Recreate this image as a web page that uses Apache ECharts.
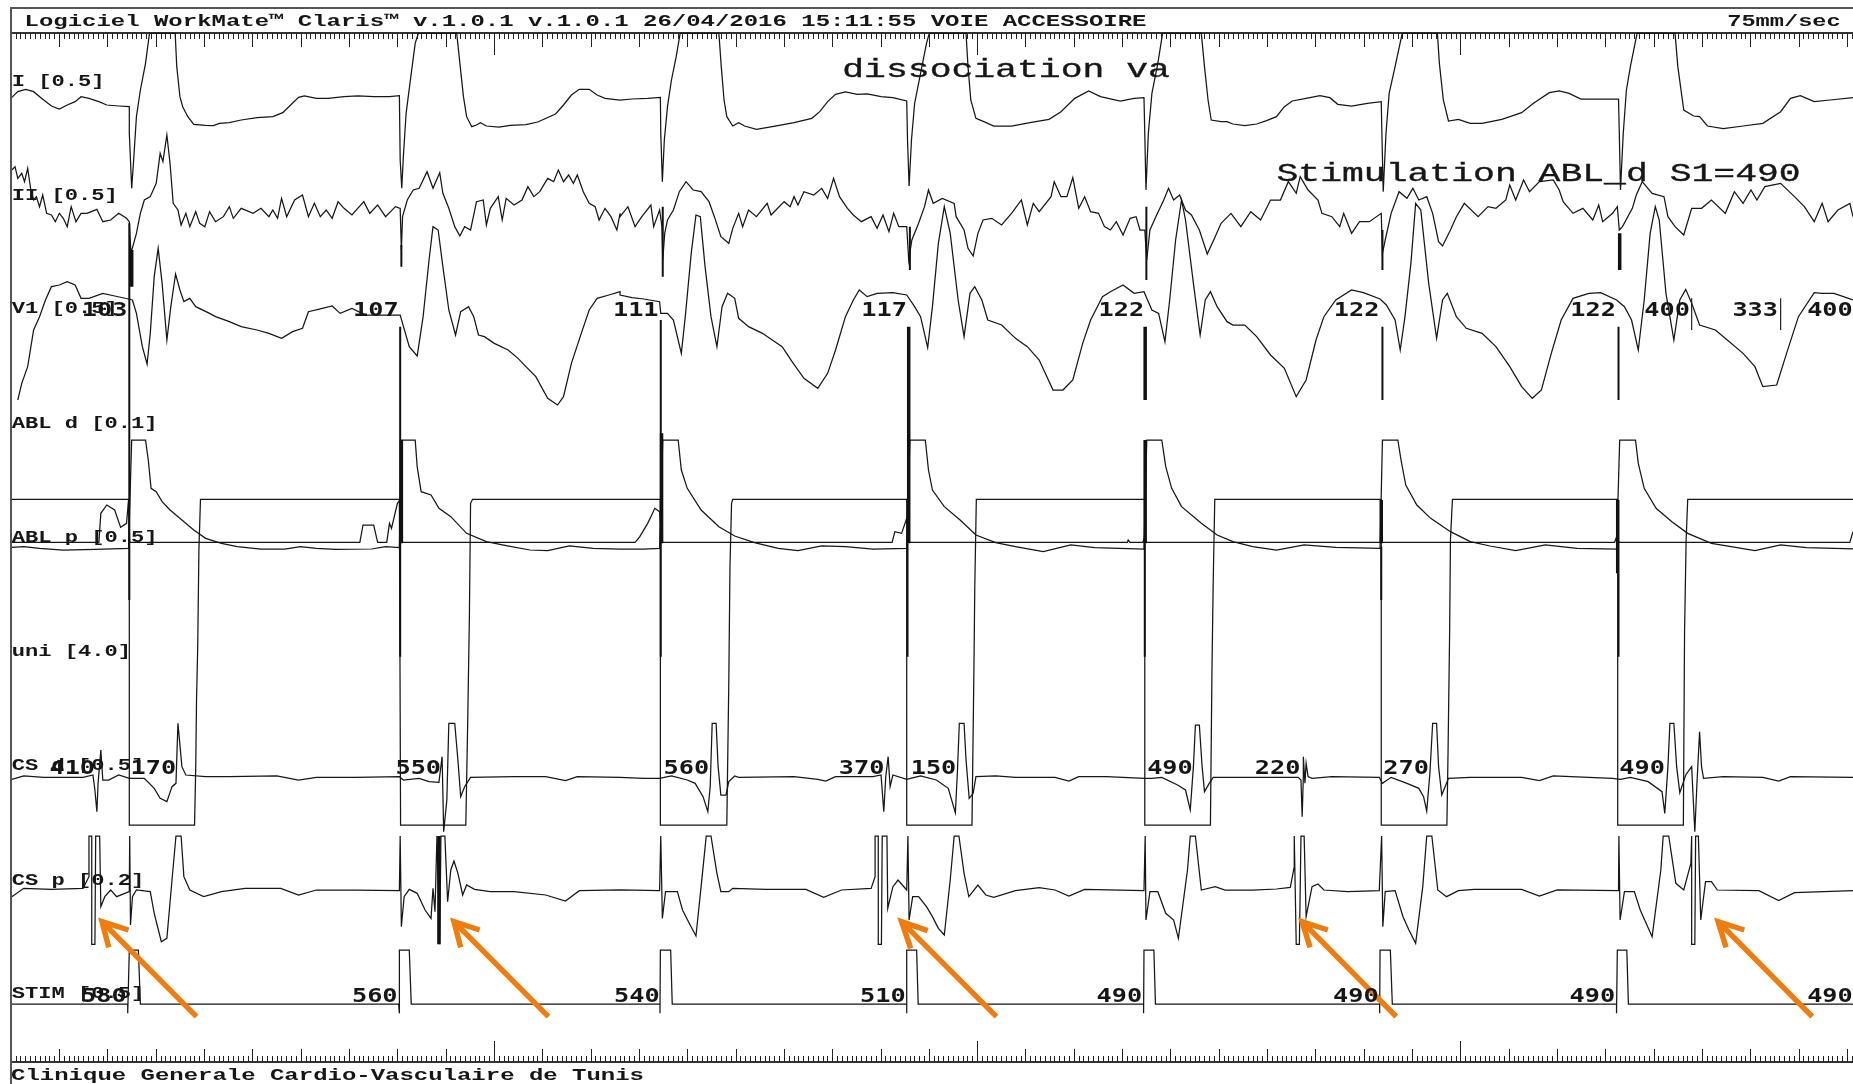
<!DOCTYPE html>
<html><head><meta charset="utf-8">
<style>html,body{margin:0;padding:0;background:#fff}#c{width:1853px;height:1084px}</style>
<script src="https://cdn.jsdelivr.net/npm/echarts@6/dist/echarts.min.js"></script>
</head><body><div id="c"></div>
<script>
// Readings: time / amplitude pairs per recording section (three overlapping sections of the strip).
const sectionStart=[0,1568,3118];
const shiftTop=0, shiftMid=1200, shiftLow=2100;

const leadI=[[30,292,45,275,65,268,85,275,105,295,130,318,150,327,170,315,190,305,205,290,225,295,250,305,270,315,300,318,327,320,327,400,333,565,338,480,345,350,355,270,368,190,378,100,443,100,447,200,455,290,462,320,475,350,490,373,520,376,540,377,555,370,580,368,610,360,650,353,690,350,715,338,735,315,755,292,770,288,800,295,830,295,870,290,905,288,945,290,985,290,1010,287,1012,287,1012,480,1016,565,1020,470,1027,340,1040,220,1050,130,1058,100,1155,100,1163,190,1172,290,1180,350,1193,380,1205,375,1215,368,1230,378,1262,381,1290,376,1330,374,1360,366,1405,342,1425,315,1445,285,1465,268,1490,268,1510,285,1530,295,1568,300],
[0,302,30,297,70,295,102,292,103,400,107,545,112,420,120,320,130,240,142,170,152,100,250,100,256,200,263,300,270,350,285,378,300,368,315,378,345,388,385,380,440,368,485,355,505,335,525,305,545,283,570,276,600,283,625,282,660,290,690,293,725,303,727,420,731,558,737,420,745,310,760,220,775,130,782,100,875,100,880,200,887,300,900,355,920,365,945,378,990,378,1040,367,1085,358,1115,335,1150,295,1185,273,1215,290,1265,303,1300,295,1325,293,1327,400,1330,570,1336,400,1345,280,1360,190,1372,100,1470,100,1478,200,1487,300,1495,360,1520,365,1535,365,1550,372],
[0,372,30,377,60,372,85,362,110,350,130,320,150,303,185,295,220,287,245,293,265,313,300,318,340,310,375,305,377,420,380,575,387,400,395,280,410,200,428,100,517,100,522,190,532,300,545,363,570,358,600,370,630,370,680,358,730,338,760,310,800,278,825,273,850,280,880,297,975,297,977,400,980,570,987,400,995,270,1005,200,1022,100,1118,100,1125,200,1140,330,1165,348,1180,350,1200,378,1240,386,1290,378,1340,370,1385,335,1410,295,1435,287,1470,305,1510,300,1568,293]];

const leadII=[[30,510,38,500,45,535,55,520,62,545,70,505,78,570,85,600,92,590,100,620,108,585,118,640,130,645,140,665,150,640,160,655,170,680,180,620,192,665,205,640,220,640,245,628,260,665,280,660,300,640,320,655,327,665,331,760,345,700,355,640,365,600,380,590,395,550,405,460,412,485,422,405,430,490,438,610,450,630,458,675,470,640,480,680,495,635,505,670,518,680,530,635,545,665,565,650,580,620,590,655,610,625,640,640,660,625,680,650,690,630,702,655,712,595,725,650,745,600,765,585,780,650,795,610,810,650,825,630,840,655,855,605,870,625,890,645,920,605,935,640,955,615,975,650,1000,620,1012,625,1015,750,1018,650,1030,600,1045,570,1060,565,1080,515,1095,565,1112,518,1120,580,1135,625,1150,680,1163,708,1175,680,1190,690,1205,605,1222,600,1230,675,1240,625,1260,590,1270,660,1280,595,1300,615,1320,600,1335,560,1350,590,1365,575,1385,535,1400,545,1412,510,1425,545,1438,525,1450,550,1460,525,1475,575,1490,610,1505,620,1515,660,1530,625,1545,650,1560,690,1568,640],
[0,650,20,620,38,680,55,650,78,615,85,680,100,630,106,680,108,780,113,700,120,660,135,630,150,575,167,545,185,570,205,575,225,605,240,655,255,710,275,730,285,685,300,640,310,680,325,630,345,650,372,610,382,645,415,605,430,620,440,590,450,615,465,575,490,585,510,565,525,595,540,535,555,590,575,625,590,645,610,665,635,650,650,685,665,645,680,695,692,640,705,680,725,680,730,780,738,720,755,670,770,620,780,570,792,610,815,595,845,610,850,650,870,690,880,745,893,768,905,700,918,660,940,655,965,675,990,640,1015,600,1030,675,1045,610,1060,635,1090,590,1098,545,1115,590,1130,590,1145,533,1160,625,1175,590,1190,635,1210,640,1225,680,1240,690,1255,665,1272,705,1290,655,1305,650,1315,690,1327,690,1332,780,1340,690,1355,650,1375,600,1387,565,1400,600,1415,585,1430,630,1445,645,1465,690,1485,762,1505,710,1520,670,1545,640],
[0,645,20,680,45,635,70,660,95,600,120,600,140,545,160,580,170,530,190,570,215,600,225,640,250,650,270,680,280,640,300,700,320,665,345,665,375,640,378,760,385,720,400,640,420,575,440,595,455,565,470,600,490,590,505,640,520,725,530,738,550,690,565,650,585,610,620,650,645,620,665,625,690,600,700,555,715,600,735,540,750,575,775,545,810,540,825,570,835,605,860,640,885,625,910,660,925,615,935,665,960,640,972,620,977,690,985,680,1010,625,1020,585,1035,545,1060,580,1090,590,1100,650,1118,680,1140,705,1160,625,1185,625,1210,600,1245,640,1268,575,1290,610,1310,570,1325,600,1345,560,1385,550,1420,590,1445,620,1470,665,1490,610,1505,665,1530,630,1560,610,1568,650]];

const leadV1=[[45,1200,55,1150,70,1100,85,990,100,950,115,900,130,860,150,855,170,845,190,855,205,895,225,895,260,880,290,888,325,897,335,900,345,940,360,1040,372,1092,380,1000,390,830,400,745,410,850,422,1020,432,920,444,822,455,870,465,905,480,895,495,920,530,940,545,950,580,965,610,980,650,990,680,1000,712,1015,740,995,765,985,780,935,815,925,840,918,860,940,890,925,925,945,960,945,1000,945,1012,945,1018,970,1035,1040,1055,1068,1070,950,1085,780,1095,680,1108,690,1120,800,1135,930,1152,1005,1165,935,1185,920,1198,950,1210,1005,1225,1010,1250,1030,1285,1050,1310,1075,1330,1100,1355,1130,1385,1195,1410,1215,1425,1190,1445,1090,1470,1000,1490,930,1510,895,1540,885,1568,875],
[0,885,30,893,60,897,100,905,103,940,120,940,135,960,155,1060,165,950,180,760,192,645,203,650,215,800,230,950,245,1040,258,920,272,880,290,895,300,955,325,980,360,1000,385,1020,410,1040,435,1085,465,1135,500,1165,525,1120,545,1050,570,950,590,900,605,870,625,890,650,880,690,878,725,885,745,920,760,950,778,1043,790,920,805,730,820,620,835,700,855,900,870,1010,885,880,897,860,915,900,930,960,965,975,1000,1015,1030,1040,1060,1080,1095,1170,1120,1170,1145,1140,1170,1030,1190,960,1220,890,1240,875,1272,855,1300,880,1325,875,1330,880,1345,930,1362,940,1378,1025,1390,900,1405,720,1420,600,1430,660,1450,850,1467,1005,1480,900,1493,875,1510,920,1535,965],
[0,975,30,975,60,1010,95,1065,130,1105,160,1190,185,1140,210,1020,230,950,260,900,300,870,330,878,372,897,388,915,410,960,423,1050,435,950,450,790,462,610,475,630,495,850,515,1015,530,900,542,880,565,950,590,985,630,1000,665,1040,700,1100,730,1160,757,1195,780,1170,805,1060,830,960,860,895,900,880,930,878,970,900,990,920,1008,960,1025,1050,1040,900,1055,700,1068,620,1078,660,1095,880,1115,1020,1130,900,1145,868,1160,910,1180,975,1220,990,1250,1020,1290,1060,1320,1100,1340,1160,1375,1155,1400,1060,1430,950,1470,878,1490,880,1520,880,1568,900]];

const leadAblD=[[30,442,60,440,100,445,160,450,240,448,325,445,333,120,368,120,375,180,382,265,395,275,410,305,430,330,460,360,490,390,520,415,560,430,600,440,660,447,720,447,760,440,800,445,850,448,940,447,975,440,1010,443,1015,120,1050,120,1055,200,1065,275,1090,285,1110,325,1140,350,1180,400,1230,425,1280,437,1340,450,1385,452,1440,438,1500,445,1568,447],
[0,447,60,447,100,445,108,120,147,120,155,210,170,265,205,330,250,380,290,408,340,428,400,445,450,452,510,438,570,440,640,447,725,445,733,120,772,120,780,210,790,270,820,320,860,360,900,405,950,428,1000,440,1070,455,1140,435,1200,443,1325,447,1332,120,1370,120,1380,200,1395,265,1420,320,1470,370,1510,405,1550,425],
[0,428,50,440,110,450,180,435,260,442,372,445,378,120,417,120,425,180,437,255,465,315,500,355,550,395,600,425,650,438,715,452,790,435,870,445,970,447,978,120,1018,120,1025,190,1040,265,1070,325,1110,365,1150,400,1210,430,1260,440,1320,452,1385,435,1450,443,1568,447]];

const leadAblP=[[30,427,250,427,255,340,270,315,290,330,305,382,320,370,325,300,328,427,910,427,918,375,945,375,955,427,978,427,985,370,990,385,1005,310,1012,300,1015,427,1568,427],
[0,427,38,427,50,410,70,370,88,325,100,335,106,427,688,427,695,395,712,400,725,355,730,427,1283,427,1285,420,1290,427,1322,427,1327,410,1330,427,1568,427],
[0,427,965,427,972,405,976,427,1560,427,1568,395]];

const leadUni=[[30,298,327,298,327,1275,492,1275,495,1100,497,900,500,740,503,450,507,298,1010,298,1013,1275,1178,1275,1183,950,1187,650,1190,310,1195,298,1568,298],
[0,298,102,298,102,1275,270,1275,275,850,278,500,282,310,285,298,725,298,725,1275,890,1275,895,800,897,570,901,298,1327,298,1327,1275,1493,1275,1497,800,1500,550,1504,298,1568,298],
[0,298,375,298,375,1275,541,1275,544,1050,548,690,550,420,555,298,973,298,973,1275,1139,1275,1142,700,1146,420,1150,298,1568,298]];

const leadCsD=[[30,238,60,228,110,232,210,232,235,225,240,270,245,335,248,250,255,150,260,240,275,240,300,225,327,235,340,235,365,235,390,265,405,295,422,305,435,260,445,250,450,70,455,70,460,200,470,225,520,230,580,230,700,228,755,240,800,232,900,232,1010,230,1020,240,1060,235,1085,245,1110,247,1118,170,1120,280,1122,395,1130,300,1135,70,1150,70,1158,180,1165,290,1175,260,1190,232,1300,230,1380,230,1430,242,1460,230,1568,232],
[0,232,60,235,100,235,105,240,130,228,170,240,190,250,210,290,222,335,228,260,233,70,243,70,248,200,255,285,268,285,275,245,290,228,300,232,440,230,500,238,520,243,545,230,640,230,660,225,667,335,672,230,678,170,683,260,690,225,725,238,735,235,760,228,800,240,830,265,848,338,853,220,858,70,870,70,875,180,883,295,893,280,900,230,950,228,1000,232,1100,232,1135,243,1160,230,1230,230,1327,235,1345,235,1370,232,1410,255,1430,270,1442,330,1450,200,1455,75,1465,75,1472,200,1478,275,1490,250,1500,232,1550,232],
[0,230,100,232,165,232,172,240,175,350,178,230,178,170,182,250,185,190,190,230,200,235,250,230,370,232,378,250,400,232,440,250,470,265,482,290,490,333,498,220,505,70,515,70,520,200,528,285,535,265,545,235,600,232,730,232,775,242,810,228,960,235,980,238,1005,232,1050,245,1085,275,1092,340,1100,200,1105,70,1115,70,1122,200,1130,278,1145,225,1160,200,1168,395,1173,260,1180,95,1185,200,1190,235,1240,230,1340,232,1380,243,1410,230,1568,232]];

const leadCsP=[[30,590,60,565,130,568,210,565,225,530,225,408,232,408,232,733,240,733,242,408,252,408,255,620,265,590,280,570,295,590,327,575,328,408,330,675,335,590,345,570,380,575,390,640,408,725,422,715,435,540,445,408,458,408,465,530,480,570,515,590,560,575,620,565,710,565,755,585,800,570,900,570,1010,572,1012,408,1015,680,1022,590,1035,568,1055,580,1075,630,1090,655,1095,565,1100,635,1105,408,1112,733,1115,408,1125,408,1132,605,1140,510,1148,483,1158,520,1170,585,1180,555,1200,568,1240,575,1300,575,1380,585,1430,603,1465,572,1568,570],
[0,570,100,572,103,408,107,655,115,575,145,575,158,630,175,670,192,708,205,560,218,408,230,408,245,520,255,575,275,575,285,565,370,568,470,568,515,592,560,570,635,565,645,530,645,408,653,408,653,733,661,733,663,408,675,408,677,625,690,560,703,540,725,570,728,408,731,660,740,590,755,590,775,620,790,650,805,685,820,705,835,540,845,408,857,408,870,520,882,590,905,555,925,585,945,592,1000,572,1060,563,1100,570,1135,588,1175,568,1325,572,1328,408,1330,660,1340,575,1360,575,1380,640,1400,660,1412,715,1435,510,1442,408,1455,408,1470,570,1505,560,1530,570,1550,570],
[0,570,50,570,110,567,145,562,155,500,155,408,160,408,160,733,168,733,172,408,180,408,185,650,200,560,215,552,230,570,290,575,370,572,376,408,379,680,385,575,410,572,430,650,445,690,462,730,480,560,490,408,503,408,518,570,540,590,570,572,610,568,730,568,775,588,820,570,975,572,976,408,979,660,990,575,1015,575,1030,630,1060,710,1082,510,1088,408,1102,408,1120,550,1140,570,1158,490,1160,408,1160,733,1168,733,1170,408,1177,408,1183,660,1195,545,1210,545,1225,570,1330,572,1380,602,1420,578,1568,572]];

const leadStim=[[30,912,323,912,323,940,327,750,350,750,355,912,1008,912,1010,940,1010,750,1035,750,1040,912,1568,912],
[0,912,101,912,101,940,102,750,128,750,132,912,725,912,725,940,725,750,750,750,754,912,1324,912,1324,940,1325,750,1350,750,1354,912,1568,912],
[0,912,371,912,371,940,372,750,398,750,403,912,970,912,970,940,972,750,996,750,1000,912,1568,912]];

// pacing artefacts: [section, time, from, to]
const artefactThin=[[0,327,670,1800],[0,1012,980,1970],[0,1015,735,800],[1,103,960,1970],[1,108,620,830],[1,727,1630,1970],[1,1327,1630,1970],[1,1331,620,840],[1,733,680,810],[2,378,690,810],[2,378,980,1200],[2,375,1640,1800],[2,975,980,1200],[2,975,1720,1970]];
const artefactThick=[[0,333,750,860],[0,1015,1320,1630],[1,105,1300,1630],[1,730,980,1630],[1,1328,980,1200],[1,1328,1320,1630],[2,375,1500,1630],[2,973,1500,1720],[2,978,700,810],[0,1110,2508,2833]];
const measureMarks=[[2,1160,895,990],[2,1385,895,990]];

// arrows: [section, tipX, tipY, tailX, tailY, barb1X, barb1Y, barb2X, barb2Y]
const arrows=[[0,258,2765,497,3050,275,2842,325,2790],[0,1148,2765,1387,3050,1165,2842,1213,2790],[1,712,2765,952,3050,735,2845,778,2792],[2,175,2765,413,3050,195,2842,240,2790],[2,1227,2765,1465,3050,1247,2842,1293,2790]];

const channelLabels=[["I [0.5]",246],["II [0.5]",588],["V1 [0.5]",928],["ABL d [0.1]",1271],["ABL p [0.5]",1613],["uni [4.0]",1955],["CS d [0.5]",2298],["CS p [0.2]",2643],["STIM [0.5]",2983]];
const rowV1=933,rowCs=2308,rowStim=2990;
const intervalLabels=[[0,207,rowV1,"103"],[0,893,rowV1,"107"],[0,1550,rowV1,"111"],[1,610,rowV1,"117"],[1,1210,rowV1,"122"],[2,255,rowV1,"122"],[2,853,rowV1,"122"],[2,1040,rowV1,"400"],[2,1263,rowV1,"333"],[2,1452,rowV1,"400"],
[0,125,rowCs,"410"],[0,330,rowCs,"170"],[0,1000,rowCs,"550"],[1,110,rowCs,"560"],[1,553,rowCs,"370"],[1,735,rowCs,"150"],[1,1333,rowCs,"490"],[2,55,rowCs,"220"],[2,380,rowCs,"270"],[2,977,rowCs,"490"],
[0,205,rowStim,"580"],[0,890,rowStim,"560"],[0,1553,rowStim,"540"],[1,607,rowStim,"510"],[1,1205,rowStim,"490"],[2,253,rowStim,"490"],[2,851,rowStim,"490"],[2,1452,rowStim,"490"]];
const headerLeft="Logiciel WorkMate\u2122 Claris\u2122 v.1.0.1 v.1.0.1 26/04/2016 15:11:55 VOIE ACCESSOIRE";
const headerRight="75mm/sec";
const footer="Clinique Generale Cardio-Vasculaire de Tunis";
const noteA="dissociation va";
const noteB="Stimulation ABL_d S1=490";

const gap=[NaN,NaN];
function joined(sections,shift){const out=[];sections.forEach((flat,s)=>{for(let i=0;i<flat.length;i+=2)out.push([flat[i]+sectionStart[s],flat[i+1]+shift]);});return out;}
function marks(list){const out=[];list.forEach(m=>{const x=m[1]+sectionStart[m[0]];out.push([x,m[2]],[x,m[3]],gap);});return out;}
function arrowLines(list){const out=[];list.forEach(a=>{const o=sectionStart[a[0]];out.push([a[3]+o,a[4]],[a[1]+o,a[2]],gap,[a[5]+o,a[6]],[a[1]+o,a[2]],[a[7]+o,a[8]],gap);});return out;}
function trace(data,width,color){return {type:'line',xAxisIndex:0,yAxisIndex:0,data:data,showSymbol:false,symbol:'none',silent:true,animation:false,smooth:false,connectNulls:false,lineStyle:{color:color||'#161616',width:width||1.25,join:'miter'}};}

const X_MAX=4686,Y_MAX=3252;
const RULER_STEP=48.32;
const chart=echarts.init(document.getElementById('c'),null,{renderer:'canvas'});
const rulerGrid={left:11,right:0,top:33,bottom:22};
function rulerAxis(grid,pos,interval,len,minor,line){return {type:'value',gridIndex:grid,position:pos,min:0,max:1842,interval:interval,axisLabel:{show:false},splitLine:{show:false},
 axisLine:{show:line,onZero:false,lineStyle:{color:'#333',width:2}},axisTick:{show:true,inside:true,length:len,lineStyle:{color:'#222',width:1}},minorTick:{show:minor,splitNumber:10,length:6,lineStyle:{color:'#222',width:1}},minorSplitLine:{show:false}};}
function hiddenY(grid,inv){return {type:'value',gridIndex:grid,min:0,max:inv||1,inverse:!!inv,show:false};}

chart.setOption({
 animation:false,backgroundColor:'#fff',
 grid:[{left:0,right:0,top:0,bottom:0},rulerGrid,rulerGrid],
 xAxis:[{type:'value',gridIndex:0,min:0,max:X_MAX,show:false},
  rulerAxis(1,'top',RULER_STEP,14,true,true),rulerAxis(1,'bottom',RULER_STEP,13,true,true),
  rulerAxis(2,'top',RULER_STEP*10,22,false,false),rulerAxis(2,'bottom',RULER_STEP*10,21,false,false)],
 yAxis:[hiddenY(0,Y_MAX),hiddenY(1),hiddenY(2)],
 series:[
  trace(joined(leadI,shiftTop)),trace(joined(leadII,shiftTop)),trace(joined(leadV1,shiftTop)),
  trace(joined(leadAblD,shiftMid)),trace(joined(leadAblP,shiftMid)),trace(joined(leadUni,shiftMid)),
  trace(joined(leadCsD,shiftLow)),trace(joined(leadCsP,shiftLow)),trace(joined(leadStim,shiftLow)),
  trace(marks(artefactThin),2,'#111'),trace(marks(artefactThick),3.5,'#111'),trace(marks(measureMarks),1.2,'#222'),
  trace(arrowLines(arrows),5.5,'#EE7D11')
 ]
});

function at(x,y){return chart.convertToPixel({gridIndex:0},[x,y]);}
function txt(x,y,s,size,scale,weight,family){const p=at(x,y);const light=weight==='normal';return {type:'text',x:p[0],y:p[1],scaleX:scale,z:light?20:30,silent:true,
 style:{text:s,fill:'#161616',stroke:light?'#161616':null,lineWidth:light?0.35:0,font:(weight||'bold')+' '+size+'px "'+(family||'Liberation Mono')+'"',textAlign:'left',textVerticalAlign:'middle'}};}
const els=[];
channelLabels.forEach(l=>els.push(txt(30,l[1],l[0],16,1.38)));
intervalLabels.forEach(l=>els.push(txt(l[1]+sectionStart[l[0]],l[2],l[3],19,1.33,'bold','DejaVu Sans Mono')));
els.push(txt(62,64,headerLeft,17,1.41));
els.push(txt(sectionStart[2]+1250,64,headerRight,17,1.39));
els.push(txt(28,3227,footer,17,1.41));
els.push(txt(sectionStart[1]+562,210,noteA,26,1.4,'normal'));
els.push(txt(sectionStart[2]+110,522,noteB,26,1.4,'normal'));
const frame={stroke:'#555',lineWidth:2};
els.push({type:'line',silent:true,z:40,shape:{x1:11,y1:8,x2:1853,y2:8},style:frame});
els.push({type:'line',silent:true,z:40,shape:{x1:11,y1:7,x2:11,y2:1084},style:frame});
chart.setOption({graphic:{elements:els}});
</script></body></html>
